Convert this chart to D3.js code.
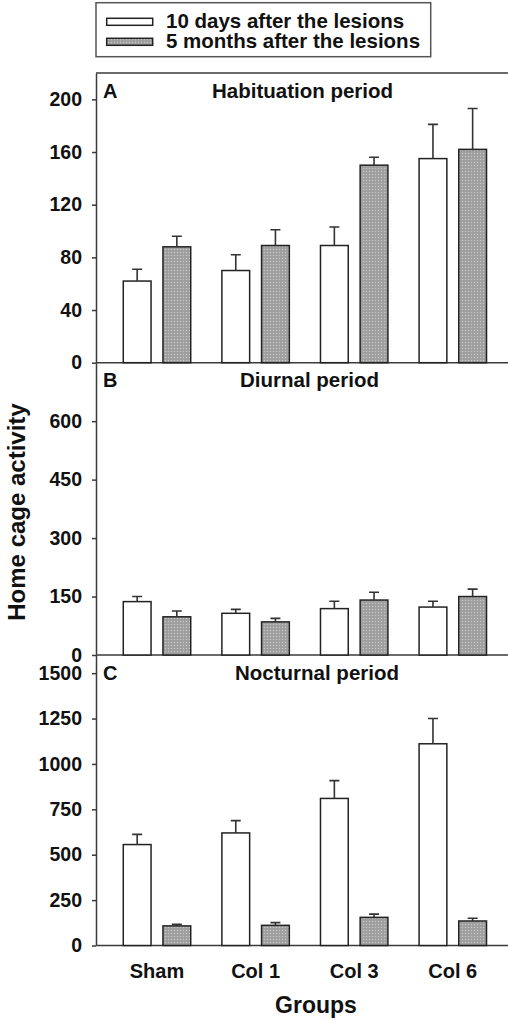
<!DOCTYPE html>
<html>
<head>
<meta charset="utf-8">
<script src="https://cdn.jsdelivr.net/npm/d3@7"></script>
<style>
  body { margin: 0; background: #fff; }
  text { font-family: "Liberation Sans", Arial, sans-serif; font-weight: bold; fill: #111; }
</style>
</head>
<body>
<div id="chart"></div>
<script>
// groups and series
var groups = ["Sham", "Col 1", "Col 3", "Col 6"];
var seriesNames = ["10 days after the lesions", "5 months after the lesions"];

// A: habituation period (mean, mean + SEM)
var habDays = [62, 70, 89, 155];
var habDaysErr = [71, 82, 103, 181];
var habMonths = [88, 89, 150, 162];
var habMonthsErr = [96, 101, 156, 193];

// B: diurnal period
var diuDays = [137, 107, 119, 123];
var diuDaysErr = [150, 117, 138, 138];
var diuMonths = [98, 85, 141, 150];
var diuMonthsErr = [113, 94, 161, 169];

// C: nocturnal period
var nocDays = [556, 620, 810, 1111];
var nocDaysErr = [612, 688, 908, 1250];
var nocMonths = [108, 111, 155, 135];
var nocMonthsErr = [117, 126, 173, 150];

// tick labels
var habTicks = [0, 40, 80, 120, 160, 200];
var diuTicks = [0, 150, 300, 450, 600];
var nocTicks = [0, 250, 500, 750, 1000, 1250, 1500];

var panels = [
  { letter: "A", title: "Habituation period", max: 220, ticks: habTicks, top: 73, bottom: 362.7, titleX: 212,
    vals: [habDays, habMonths], errs: [habDaysErr, habMonthsErr] },
  { letter: "B", title: "Diurnal period", max: 750, ticks: diuTicks, top: 362.7, bottom: 655, titleX: 240,
    vals: [diuDays, diuMonths], errs: [diuDaysErr, diuMonthsErr] },
  { letter: "C", title: "Nocturnal period", max: 1600, ticks: nocTicks, top: 655, bottom: 945.5, titleX: 235,
    vals: [nocDays, nocMonths], errs: [nocDaysErr, nocMonthsErr] }
];

var W = 508, H = 1021, axisX = 96;
var lineCol = "#3a3a3a";

var svg = d3.select("#chart").append("svg")
    .attr("width", W)
    .attr("height", H);

// dotted grey fill like the scan
var defs = svg.append("defs");
var pat = defs.append("pattern")
    .attr("id", "dots")
    .attr("width", 3).attr("height", 3)
    .attr("patternUnits", "userSpaceOnUse");
pat.append("rect").attr("width", 3).attr("height", 3).attr("fill", "#a4a4a4");
pat.append("rect").attr("x", 0).attr("y", 0).attr("width", 1).attr("height", 1).attr("fill", "#c9c9c9");
pat.append("rect").attr("x", 1.5).attr("y", 1.5).attr("width", 1).attr("height", 1).attr("fill", "#8a8a8a");

var fills = ["#ffffff", "url(#dots)"];

// x scales shared by all panels
var x0 = d3.scaleBand()
    .domain(groups)
    .range([107.7, 502.1])
    .paddingInner(0.316)
    .paddingOuter(0.158);

var x1 = d3.scaleBand()
    .domain([0, 1])
    .range([0, x0.bandwidth()])
    .paddingInner(0.3);

// top border of the frame
svg.append("line")
    .attr("x1", axisX).attr("x2", W)
    .attr("y1", 73).attr("y2", 73)
    .attr("stroke", lineCol).attr("stroke-width", 1.5);

panels.forEach(function(p) {
  var y = d3.scaleLinear()
      .domain([0, p.max])
      .range([p.bottom, p.top]);

  // left axis
  var ax = svg.append("g")
      .attr("transform", "translate(" + axisX + ",0)")
      .call(d3.axisLeft(y).tickValues(p.ticks).tickFormat(d3.format("d"))
            .tickSize(4).tickSizeOuter(0).tickPadding(10));
  ax.select(".domain").attr("stroke", lineCol).attr("stroke-width", 1.5);
  ax.selectAll(".tick line").attr("stroke", lineCol).attr("stroke-width", 1.5);
  ax.selectAll(".tick text")
      .attr("font-size", "19.5px")
      .attr("font-family", "Liberation Sans, Arial, sans-serif")
      .attr("font-weight", "bold")
      .attr("fill", "#111");

  // baseline
  svg.append("line")
      .attr("x1", axisX).attr("x2", W)
      .attr("y1", y(0)).attr("y2", y(0))
      .attr("stroke", lineCol).attr("stroke-width", 1.5);

  // bars
  p.vals.forEach(function(vals, s) {
    var g = svg.append("g");
    g.selectAll("rect")
        .data(vals)
        .enter().append("rect")
        .attr("x", function(d, i) { return x0(groups[i]) + x1(s); })
        .attr("y", function(d) { return y(d); })
        .attr("width", x1.bandwidth())
        .attr("height", function(d) { return y(0) - y(d); })
        .attr("fill", fills[s])
        .attr("stroke", "#222")
        .attr("stroke-width", 1.5);

    // error bars (upper only)
    var errs = p.errs[s];
    g.selectAll(".err")
        .data(vals)
        .enter().append("path")
        .attr("class", "err")
        .attr("d", function(d, i) {
          var cx = x0(groups[i]) + x1(s) + x1.bandwidth() / 2;
          return "M" + cx + "," + y(d) + "V" + y(errs[i]) +
                 "M" + (cx - 5) + "," + y(errs[i]) + "H" + (cx + 5);
        })
        .attr("stroke", "#333")
        .attr("stroke-width", 1.6)
        .attr("fill", "none");
  });

  // panel letter and title
  svg.append("text")
      .attr("x", axisX + 7)
      .attr("y", p.top + 24.5)
      .attr("font-size", "20px")
      .text(p.letter);

  svg.append("text")
      .attr("x", p.titleX)
      .attr("y", p.top + 24.5)
      .attr("font-size", "20.5px")
      .text(p.title);
});

// group labels
svg.selectAll(".grp")
    .data(groups)
    .enter().append("text")
    .attr("class", "grp")
    .attr("x", function(d) { return x0(d) + x0.bandwidth() / 2; })
    .attr("y", 978)
    .attr("text-anchor", "middle")
    .attr("font-size", "20px")
    .text(function(d) { return d; });

// axis titles
svg.append("text")
    .attr("x", 316)
    .attr("y", 1013)
    .attr("text-anchor", "middle")
    .attr("font-size", "23px")
    .text("Groups");

svg.append("text")
    .attr("transform", "translate(25,512) rotate(-90)")
    .attr("text-anchor", "middle")
    .attr("font-size", "24px")
    .text("Home cage activity");

// legend
var leg = svg.append("g");
leg.append("rect")
    .attr("x", 96).attr("y", 2.7)
    .attr("width", 334.7).attr("height", 54)
    .attr("fill", "#fff")
    .attr("stroke", "#555")
    .attr("stroke-width", 1.5);

seriesNames.forEach(function(name, s) {
  leg.append("rect")
      .attr("x", 106.7)
      .attr("y", 18.3 + s * 20)
      .attr("width", 46)
      .attr("height", 7)
      .attr("fill", fills[s])
      .attr("stroke", "#222")
      .attr("stroke-width", 1.5);
  leg.append("text")
      .attr("x", 166)
      .attr("y", 28.3 + s * 20)
      .attr("font-size", "20.5px")
      .text(name);
});
</script>
</body>
</html>
